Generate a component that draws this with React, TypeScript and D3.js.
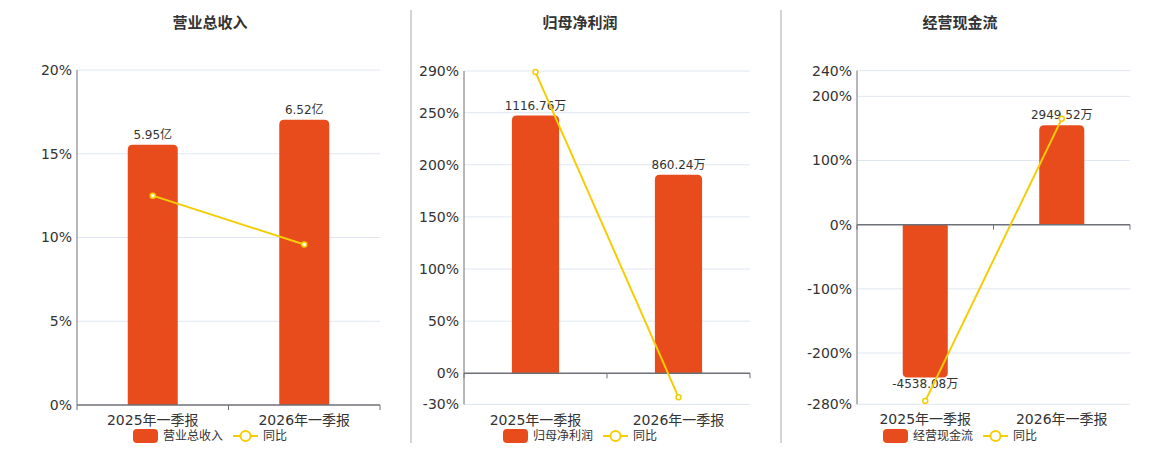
import React, { useEffect, useRef } from "react"
import * as d3 from "d3"

const WIDTH = 1160
const HEIGHT = 450
const FONT = "'DejaVu Sans', 'Noto Sans CJK SC', sans-serif"

const categories = ["2025年一季报", "2026年一季报"]

const titles = ["营业总收入", "归母净利润", "经营现金流"]

const revenueValues = [5.95, 6.52]
const revenueLabels = ["5.95亿", "6.52亿"]
const revenueYoy = [12.5, 9.58]

const profitValues = [1116.76, 860.24]
const profitLabels = ["1116.76万", "860.24万"]
const profitYoy = [289, -22.97]

const cashValues = [-4538.08, 2949.52]
const cashLabels = ["-4538.08万", "2949.52万"]
const cashYoy = [-275, 165]

const revenueTicks = [0, 5, 10, 15, 20]
const profitTicks = [-30, 0, 50, 100, 150, 200, 250, 290]
const cashTicks = [-280, -200, -100, 0, 100, 200, 240]

// hidden bar axis maximum per panel
const barMaxes = [7.66, 1310, 4570]

interface Panel {
    title: string
    bars: number[]
    labels: string[]
    yoy: number[]
    ticks: number[]
    barMax: number
    left: number
    right: number
    top: number
    bottom: number
    cx: number
}

const panels: Panel[] = [
    { title: titles[0], bars: revenueValues, labels: revenueLabels, yoy: revenueYoy, ticks: revenueTicks, barMax: barMaxes[0], left: 77, right: 380, top: 70, bottom: 405, cx: 210 },
    { title: titles[1], bars: profitValues, labels: profitLabels, yoy: profitYoy, ticks: profitTicks, barMax: barMaxes[1], left: 464, right: 750, top: 71, bottom: 404.5, cx: 580 },
    { title: titles[2], bars: cashValues, labels: cashLabels, yoy: cashYoy, ticks: cashTicks, barMax: barMaxes[2], left: 857, right: 1130, top: 70.7, bottom: 404.3, cx: 960 },
]

const BAR_COLOR = "#e84c1c"
const LINE_COLOR = "#f5cd05"
const AXIS_COLOR = "#6e7079"
const GRID_COLOR = "#e0e6f1"
const TEXT_COLOR = "#333"

// rounded rect path on the far end from zero
function barPath(x: number, w: number, y0: number, y1: number, r: number) {
    const h = Math.abs(y1 - y0)
    const rr = Math.min(r, h / 2, w / 2)
    if (y1 < y0) {
        return `M${x},${y0}V${y1 + rr}Q${x},${y1} ${x + rr},${y1}H${x + w - rr}Q${x + w},${y1} ${x + w},${y1 + rr}V${y0}Z`
    }
    return `M${x},${y0}V${y1 - rr}Q${x},${y1} ${x + rr},${y1}H${x + w - rr}Q${x + w},${y1} ${x + w},${y1 - rr}V${y0}Z`
}

const App: React.FC = () => {
    const svgRef = useRef<SVGSVGElement | null>(null)

    useEffect(() => {
        if (!svgRef.current) return
        const svg = d3.select(svgRef.current)
        svg.selectAll("*").remove()
        svg.style("font-family", FONT)

        // dividers
        ;[411, 781].forEach(x => {
            svg.append("line")
                .attr("x1", x).attr("x2", x)
                .attr("y1", 10).attr("y2", 443)
                .attr("stroke", "#aaa")
                .attr("stroke-width", 1)
        })

        panels.forEach(p => {
            const g = svg.append("g")
            const pMin = d3.min(p.ticks)!
            const pMax = d3.max(p.ticks)!

            const x = d3.scaleBand<string>()
                .domain(categories)
                .range([p.left, p.right])

            const y = d3.scaleLinear()
                .domain([pMin, pMax])
                .range([p.bottom, p.top])

            const yBar = d3.scaleLinear()
                .domain([(p.barMax * pMin) / pMax, p.barMax])
                .range([p.bottom, p.top])

            // title
            g.append("text")
                .attr("x", p.cx)
                .attr("y", 28)
                .attr("text-anchor", "middle")
                .attr("font-size", 15)
                .attr("font-weight", "bold")
                .attr("fill", TEXT_COLOR)
                .text(p.title)

            // grid
            g.selectAll(".grid")
                .data(p.ticks.filter(t => t !== 0))
                .enter()
                .append("line")
                .attr("x1", p.left)
                .attr("x2", p.right)
                .attr("y1", d => y(d))
                .attr("y2", d => y(d))
                .attr("stroke", GRID_COLOR)

            // y tick labels
            g.selectAll(".ylab")
                .data(p.ticks)
                .enter()
                .append("text")
                .attr("x", p.left - 5)
                .attr("y", d => y(d))
                .attr("dy", "0.35em")
                .attr("text-anchor", "end")
                .attr("font-size", 14)
                .attr("fill", TEXT_COLOR)
                .text(d => `${d}%`)

            // bars
            const bw = x.bandwidth() * 0.33
            g.selectAll(".bar")
                .data(p.bars)
                .enter()
                .append("path")
                .attr("d", (d, i) => {
                    const bx = x(categories[i])! + x.bandwidth() / 2 - bw / 2
                    return barPath(bx, bw, yBar(0), yBar(d), 5)
                })
                .attr("fill", BAR_COLOR)

            // bar labels
            g.selectAll(".blab")
                .data(p.bars)
                .enter()
                .append("text")
                .attr("x", (_, i) => x(categories[i])! + x.bandwidth() / 2)
                .attr("y", d => (d >= 0 ? yBar(d) - 6 : yBar(d) + 10))
                .attr("text-anchor", "middle")
                .attr("font-size", 12)
                .attr("fill", TEXT_COLOR)
                .text((_, i) => p.labels[i])

            // y axis line
            g.append("line")
                .attr("x1", p.left).attr("x2", p.left)
                .attr("y1", p.top).attr("y2", p.bottom)
                .attr("stroke", AXIS_COLOR)

            // x axis at zero
            const y0 = y(0)
            g.append("line")
                .attr("x1", p.left).attr("x2", p.right)
                .attr("y1", y0).attr("y2", y0)
                .attr("stroke", AXIS_COLOR)
                .attr("stroke-width", 1.5)
            const edges = [p.left, p.left + x.bandwidth(), p.right]
            g.selectAll(".xtick")
                .data(edges)
                .enter()
                .append("line")
                .attr("x1", d => d).attr("x2", d => d)
                .attr("y1", y0).attr("y2", y0 + 5)
                .attr("stroke", AXIS_COLOR)

            // x labels
            g.selectAll(".xlab")
                .data(categories)
                .enter()
                .append("text")
                .attr("x", d => x(d)! + x.bandwidth() / 2)
                .attr("y", p.bottom + 20)
                .attr("text-anchor", "middle")
                .attr("font-size", 14)
                .attr("fill", TEXT_COLOR)
                .text(d => d)

            // yoy line
            const line = d3.line<number>()
                .x((_, i) => x(categories[i])! + x.bandwidth() / 2)
                .y(d => y(d))
            g.append("path")
                .datum(p.yoy)
                .attr("d", line)
                .attr("fill", "none")
                .attr("stroke", LINE_COLOR)
                .attr("stroke-width", 2)
            g.selectAll(".pt")
                .data(p.yoy)
                .enter()
                .append("circle")
                .attr("cx", (_, i) => x(categories[i])! + x.bandwidth() / 2)
                .attr("cy", d => y(d))
                .attr("r", 2.5)
                .attr("fill", "#fff")
                .attr("stroke", LINE_COLOR)
                .attr("stroke-width", 1.5)

            // legend
            const lx = p.cx - 77
            const ly = 436
            g.append("rect")
                .attr("x", lx).attr("y", ly - 7)
                .attr("width", 25).attr("height", 14)
                .attr("rx", 4)
                .attr("fill", BAR_COLOR)
            g.append("text")
                .attr("x", lx + 30).attr("y", ly)
                .attr("dy", "0.35em")
                .attr("font-size", 12)
                .attr("fill", TEXT_COLOR)
                .text(p.title)
            const sx = lx + 100
            g.append("line")
                .attr("x1", sx).attr("x2", sx + 25)
                .attr("y1", ly).attr("y2", ly)
                .attr("stroke", LINE_COLOR)
                .attr("stroke-width", 2)
            g.append("circle")
                .attr("cx", sx + 12.5).attr("cy", ly)
                .attr("r", 5)
                .attr("fill", "#fff")
                .attr("stroke", LINE_COLOR)
                .attr("stroke-width", 2)
            g.append("text")
                .attr("x", sx + 30).attr("y", ly)
                .attr("dy", "0.35em")
                .attr("font-size", 12)
                .attr("fill", TEXT_COLOR)
                .text("同比")
        })
    }, [])

    return (
        <svg
            ref={svgRef}
            width={WIDTH}
            height={HEIGHT}
            style={{ position: "absolute", left: 0, top: 0, background: "#fff" }}
        />
    )
}

export default App
